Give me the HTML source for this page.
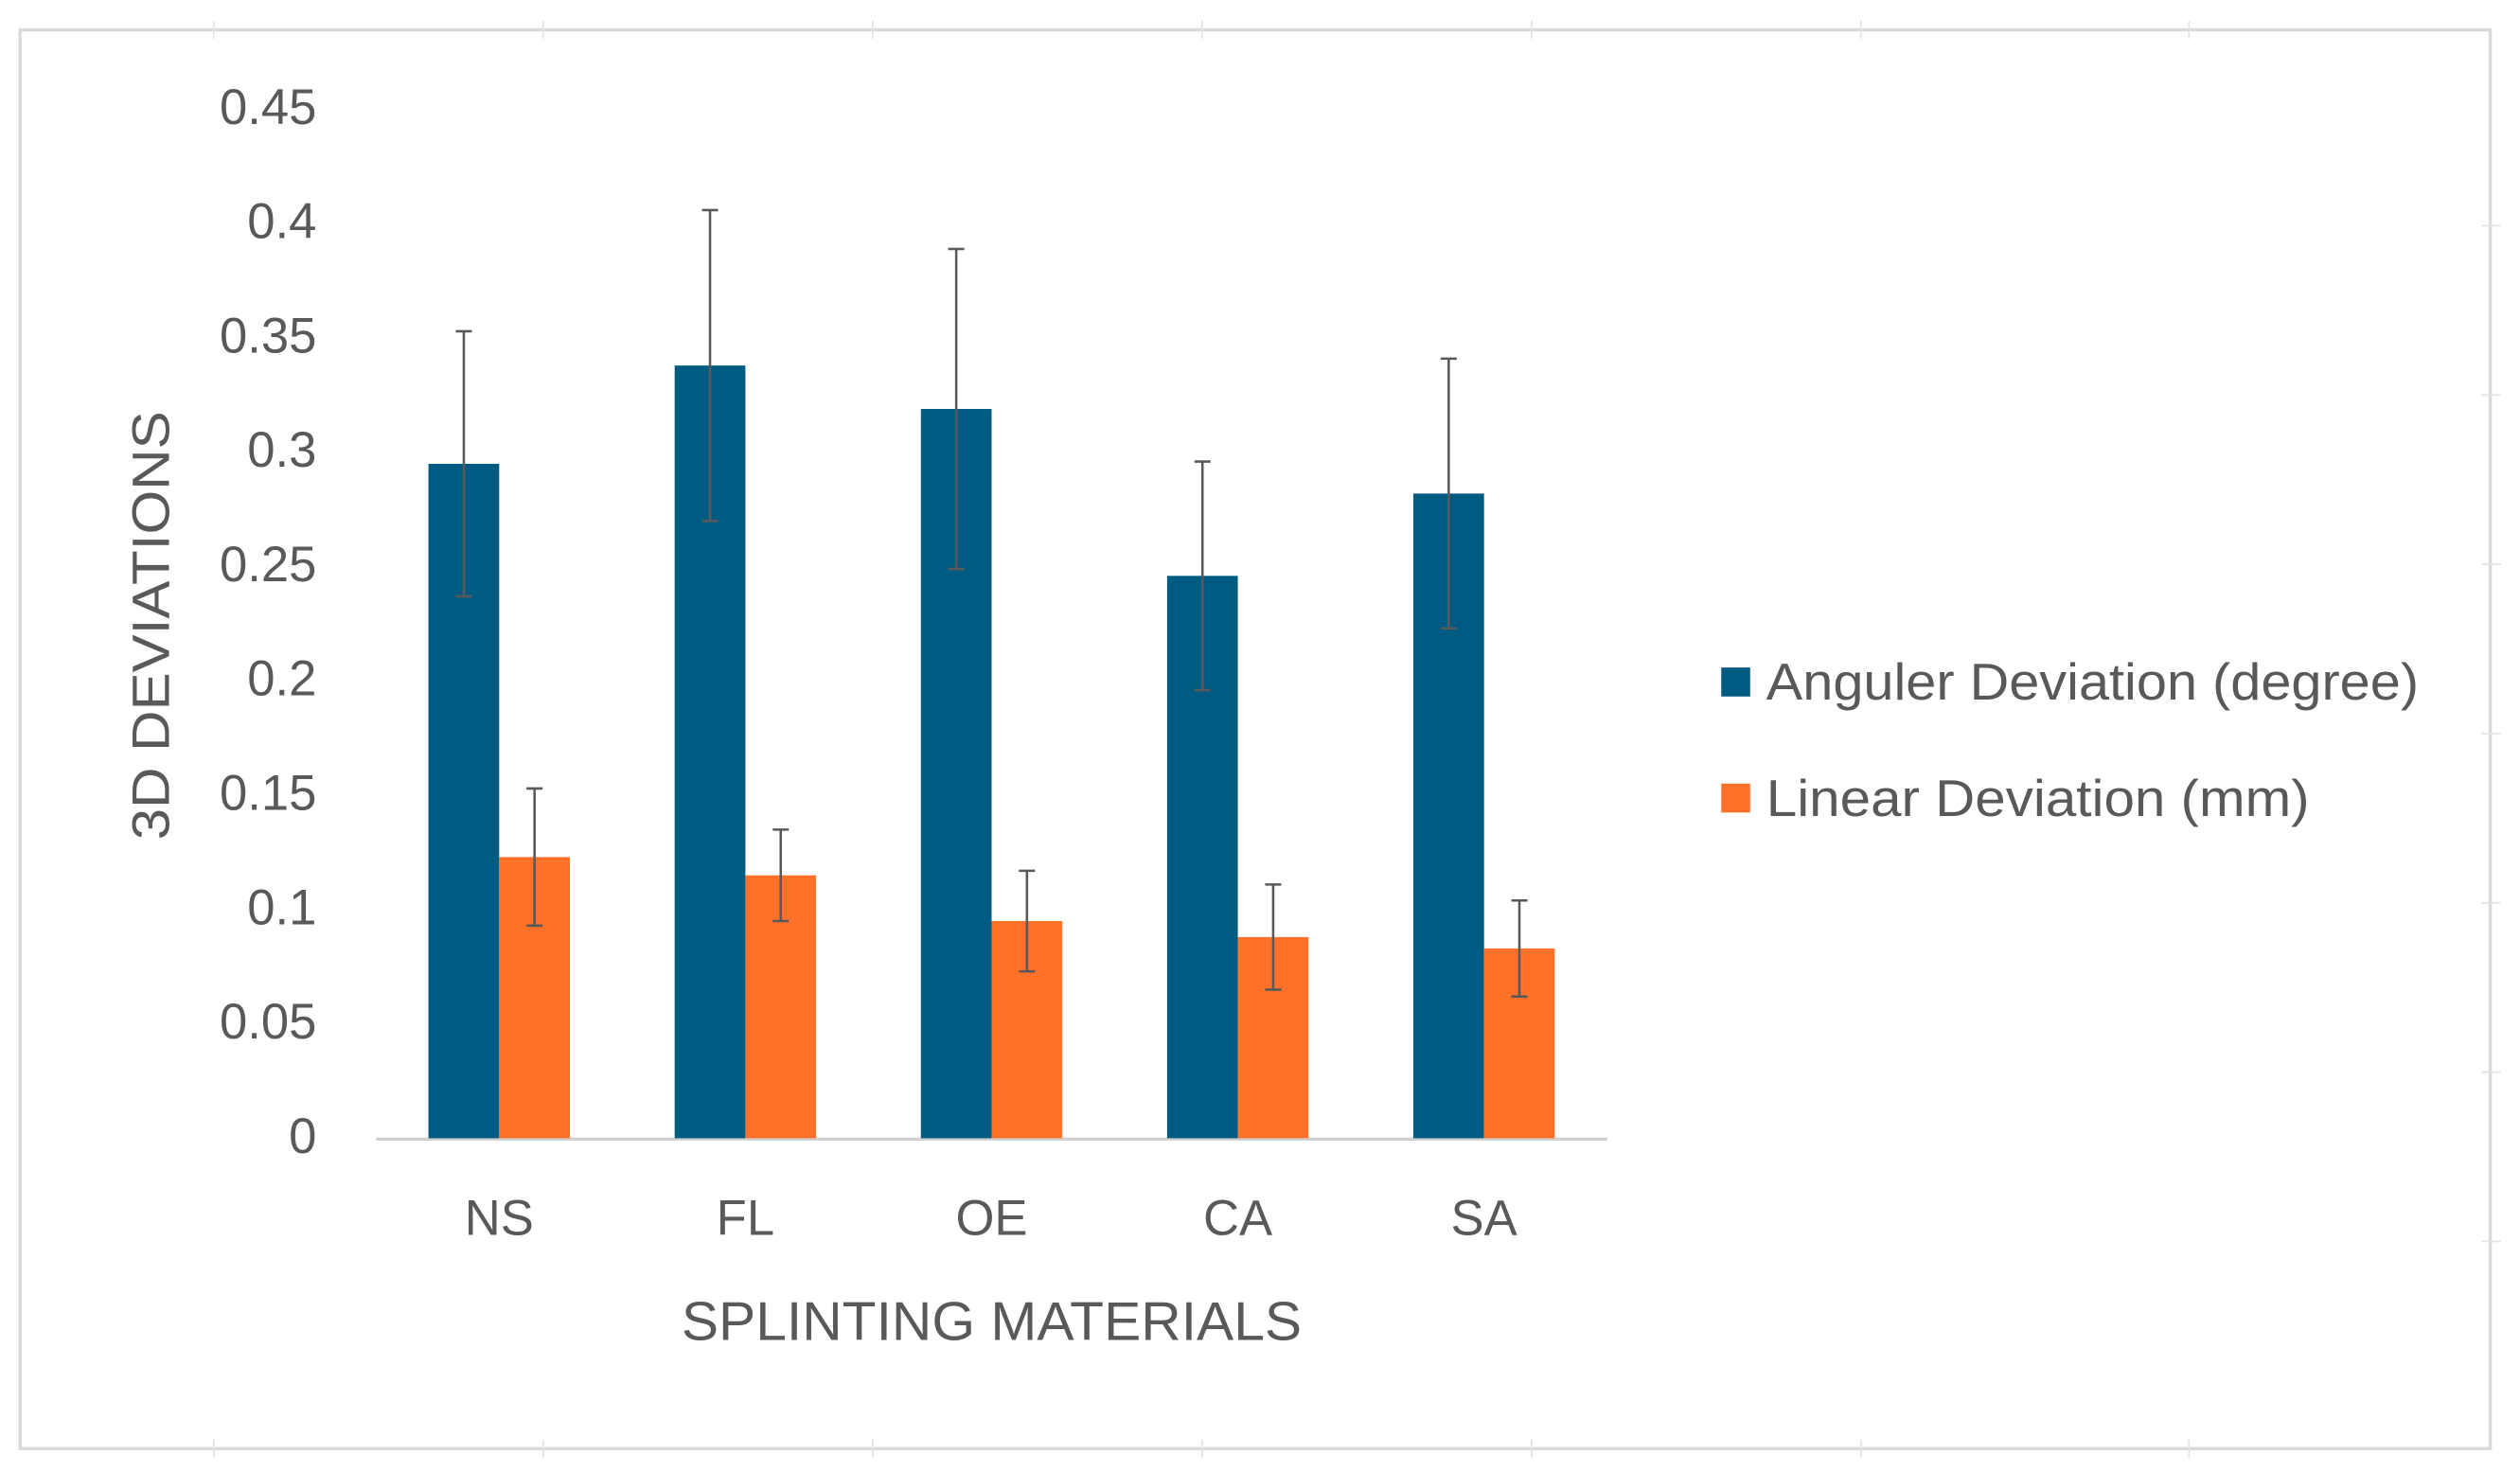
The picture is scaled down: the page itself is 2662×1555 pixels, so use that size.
<!DOCTYPE html>
<html><head><meta charset="utf-8"><style>
html,body{margin:0;padding:0;background:#fff}
svg{display:block}
text{font-family:"Liberation Sans",sans-serif;fill:#595959}
</style></head><body>
<svg width="2662" height="1555" viewBox="0 0 1568 913" preserveAspectRatio="none" xmlns="http://www.w3.org/2000/svg">
<rect x="12.5" y="18.5" width="1537" height="880" fill="#fff" stroke="#d9d9d9" stroke-width="2"/>
<g id="frame-ticks" stroke="#e3e3e3" stroke-width="1"></g>
<g id="yaxis"></g>
<line x1="234" y1="706.5" x2="1000" y2="706.5" stroke="#d0d0d0" stroke-width="2"/>
<g id="bars"></g>
<g id="xaxis"></g>
<text transform="translate(105,388) rotate(-90)" text-anchor="middle" font-size="33" textLength="266" lengthAdjust="spacingAndGlyphs">3D DEVIATIONS</text>
<text x="617" y="831" text-anchor="middle" font-size="34" textLength="386" lengthAdjust="spacingAndGlyphs">SPLINTING MATERIALS</text>
<g>
<rect x="1071" y="414" width="18" height="18" fill="#005B82"/>
<text x="1099" y="434" font-size="32" textLength="406" lengthAdjust="spacingAndGlyphs">Anguler Deviation (degree)</text>
<rect x="1071" y="486" width="18" height="18" fill="#FF7128"/>
<text x="1099" y="506" font-size="32" textLength="338" lengthAdjust="spacingAndGlyphs">Linear Deviation (mm)</text>
</g>
</svg>
<script>
const categories = ["NS","FL","OE","CA","SA"];
const angular = [0.295,0.338,0.319,0.246,0.282];
const angularErr = [0.058,0.068,0.070,0.050,0.059];
const linear = [0.123,0.115,0.095,0.088,0.083];
const linearErr = [0.030,0.020,0.022,0.023,0.021];
const yTicks = [0,0.05,0.1,0.15,0.2,0.25,0.3,0.35,0.4,0.45];
const yTickLabels = ["0","0.05","0.1","0.15","0.2","0.25","0.3","0.35","0.4","0.45"];

const NS='http://www.w3.org/2000/svg';
const y0=706, yPerUnit=1418, xL=234, xR=1000;
const band=(xR-xL)/categories.length, bw=44;
function yS(v){return y0-v*yPerUnit;}
function xC(i){return xL+band*(i+0.5);}
function mk(tag,attrs,parent){const e=document.createElementNS(NS,tag);for(const k in attrs)e.setAttribute(k,attrs[k]);parent.appendChild(e);return e;}

const ft=document.getElementById('frame-ticks');
[133,338,543,748,953,1158,1362].forEach(x=>{mk('line',{x1:x,y1:13,x2:x,y2:24},ft);mk('line',{x1:x,y1:893,x2:x,y2:904},ft);});
[140,245,350,455,560,665,770].forEach(y=>{mk('line',{x1:1544,y1:y,x2:1556,y2:y},ft);});

const ya=document.getElementById('yaxis');
yTicks.forEach((v,i)=>{
  const t=mk('text',{x:197,y:yS(v)+9,'text-anchor':'end','font-size':31},ya);
  
  
  t.textContent=yTickLabels[i];
});

const bg=document.getElementById('bars');
function err(x,v,e){
  const g=mk('g',{stroke:'#595959','stroke-width':1.5},bg);
  
  
  mk('line',{x1:x,y1:yS(v+e),x2:x,y2:yS(v-e)},g);
  mk('line',{x1:x-5,y1:yS(v+e),x2:x+5,y2:yS(v+e)},g);
  mk('line',{x1:x-5,y1:yS(v-e),x2:x+5,y2:yS(v-e)},g);
}
const xa=document.getElementById('xaxis');
categories.forEach((c,i)=>{
  const cx=xC(i);
  const a=mk('rect',{x:cx-bw,y:yS(angular[i]),width:bw,height:yS(0)-yS(angular[i]),fill:'#005B82'},bg);
  
  
  const l=mk('rect',{x:cx,y:yS(linear[i]),width:bw,height:yS(0)-yS(linear[i]),fill:'#FF7128'},bg);
  
  
  err(cx-bw/2,angular[i],angularErr[i]);
  err(cx+bw/2,linear[i],linearErr[i]);
  const t=mk('text',{x:cx,y:766,'text-anchor':'middle','font-size':31},xa);
  
  
  t.textContent=c;
});
</script>
</body></html>
